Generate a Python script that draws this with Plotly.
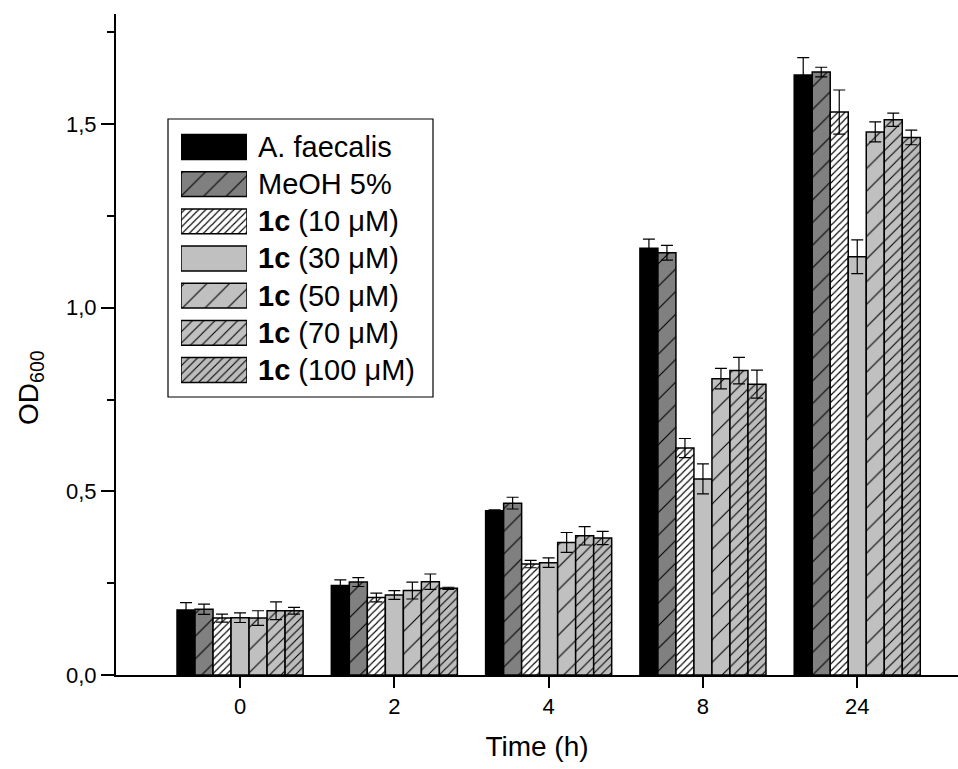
import plotly.graph_objects as go

# ---- data ----
time_labels = ["0", "2", "4", "8", "24"]
time_pos = [0, 1, 2, 3, 4]

series_names = ["A. faecalis", "MeOH 5%", "<b>1c</b> (10 μM)", "<b>1c</b> (30 μM)",
                "<b>1c</b> (50 μM)", "<b>1c</b> (70 μM)", "<b>1c</b> (100 μM)"]

af = [0.177, 0.244, 0.447, 1.162, 1.634]
af_err = [0.020, 0.015, 0.003, 0.025, 0.047]
meoh = [0.179, 0.253, 0.468, 1.150, 1.642]
meoh_err = [0.014, 0.012, 0.016, 0.020, 0.013]
c10 = [0.155, 0.211, 0.302, 0.618, 1.533]
c10_err = [0.011, 0.012, 0.010, 0.026, 0.060]
c30 = [0.156, 0.218, 0.306, 0.534, 1.139]
c30_err = [0.013, 0.012, 0.013, 0.041, 0.046]
c50 = [0.155, 0.230, 0.361, 0.807, 1.479]
c50_err = [0.020, 0.023, 0.027, 0.028, 0.027]
c70 = [0.175, 0.254, 0.379, 0.829, 1.512]
c70_err = [0.024, 0.021, 0.025, 0.036, 0.018]
c100 = [0.175, 0.236, 0.373, 0.792, 1.464]
c100_err = [0.009, 0.003, 0.018, 0.038, 0.020]

y_ticks = [0, 0.5, 1.0, 1.5]
legend_swatch = [1]

values = [af, meoh, c10, c30, c50, c70, c100]
errors = [af_err, meoh_err, c10_err, c30_err, c50_err, c70_err, c100_err]

# ---- styles ----
bg_colors = ["#000000", "#808080", "#ffffff", "#c0c0c0", "#c0c0c0", "#c0c0c0", "#bcbcbc"]
hatch = ["", "/", "/", "", "/", "/", "/"]
hatch_size = [10, 16, 5, 10, 16, 8, 6]

FONT = "Liberation Sans, Arial, sans-serif"


def marker_style(i):
    m = dict(color=bg_colors[i], line=dict(color="black", width=1.5))
    if hatch[i]:
        m["pattern"] = dict(shape=hatch[i], size=hatch_size[i],
                            solidity=min(0.5, 1.1 / hatch_size[i]),
                            fgcolor="black", bgcolor=bg_colors[i], fillmode="replace")
    return m


fig = go.Figure()
for i in range(7):
    fig.add_trace(go.Bar(
        x=time_pos, y=values[i], name=series_names[i], showlegend=False,
        marker=marker_style(i),
        error_y=dict(type="data", array=errors[i], color="black", thickness=1.2, width=6),
    ))

# custom legend swatches on a secondary axis pair
for i in range(7):
    fig.add_trace(go.Bar(
        x=legend_swatch, y=[i], orientation="h", xaxis="x2", yaxis="y2",
        width=0.67, offset=-0.335, showlegend=False, hoverinfo="skip",
        marker=marker_style(i),
    ))

W, H = 958, 769
L, R, T, B = 116, 0, 14, 94
pw = W - L - R
ph = H - T - B


def px_x(x):
    return (x - L) / pw


def px_y(y):
    return (H - B - y) / ph


annotations = []
for i in range(7):
    annotations.append(dict(
        text=series_names[i], xref="paper", x=px_x(256), xanchor="left",
        yref="y2", y=i, yanchor="middle", showarrow=False,
        font=dict(family=FONT, size=29, color="black"),
    ))
annotations.append(dict(
    text="OD<sub>600</sub>", xref="paper", x=px_x(30), yref="paper", y=px_y(388),
    xanchor="center", yanchor="middle", textangle=-90, showarrow=False,
    font=dict(family=FONT, size=28, color="black"),
))

fig.update_layout(
    width=W, height=H,
    margin=dict(l=L, r=R, t=T, b=B, pad=0),
    paper_bgcolor="white", plot_bgcolor="white",
    barmode="group", bargap=0.183, bargroupgap=0,
    separators=", ",
    font=dict(family=FONT, color="black"),
    showlegend=False,
    xaxis=dict(
        range=[-0.804, 4.653], tickvals=time_pos, ticktext=time_labels,
        showline=True, linecolor="black", linewidth=2,
        ticks="outside", ticklen=11, tickwidth=2, tickcolor="black",
        tickfont=dict(size=22), showgrid=False, zeroline=False,
        title=dict(text="Time (h)", font=dict(size=28), standoff=18),
    ),
    yaxis=dict(
        range=[0, 1.8], tickvals=y_ticks, tickformat=".1f",
        showline=True, linecolor="black", linewidth=2,
        ticks="outside", ticklen=13, tickwidth=2, tickcolor="black",
        minor=dict(dtick=0.25, tick0=0, ticks="outside", ticklen=7, tickwidth=2, tickcolor="black"),
        tickfont=dict(size=22), showgrid=False, zeroline=False,
    ),
    xaxis2=dict(domain=[px_x(181), px_x(247)], range=[0, 1], anchor="y2",
                visible=False, fixedrange=True),
    yaxis2=dict(domain=[px_y(388.6), px_y(128.4)], range=[6.5, -0.5], anchor="x2",
                visible=False, fixedrange=True),
    shapes=[dict(type="rect", xref="paper", yref="paper",
                 x0=px_x(168), x1=px_x(433), y0=px_y(397), y1=px_y(119),
                 line=dict(color="black", width=1.2), fillcolor="white", layer="below")],
    annotations=annotations,
)

fig.write_html("out.html")
